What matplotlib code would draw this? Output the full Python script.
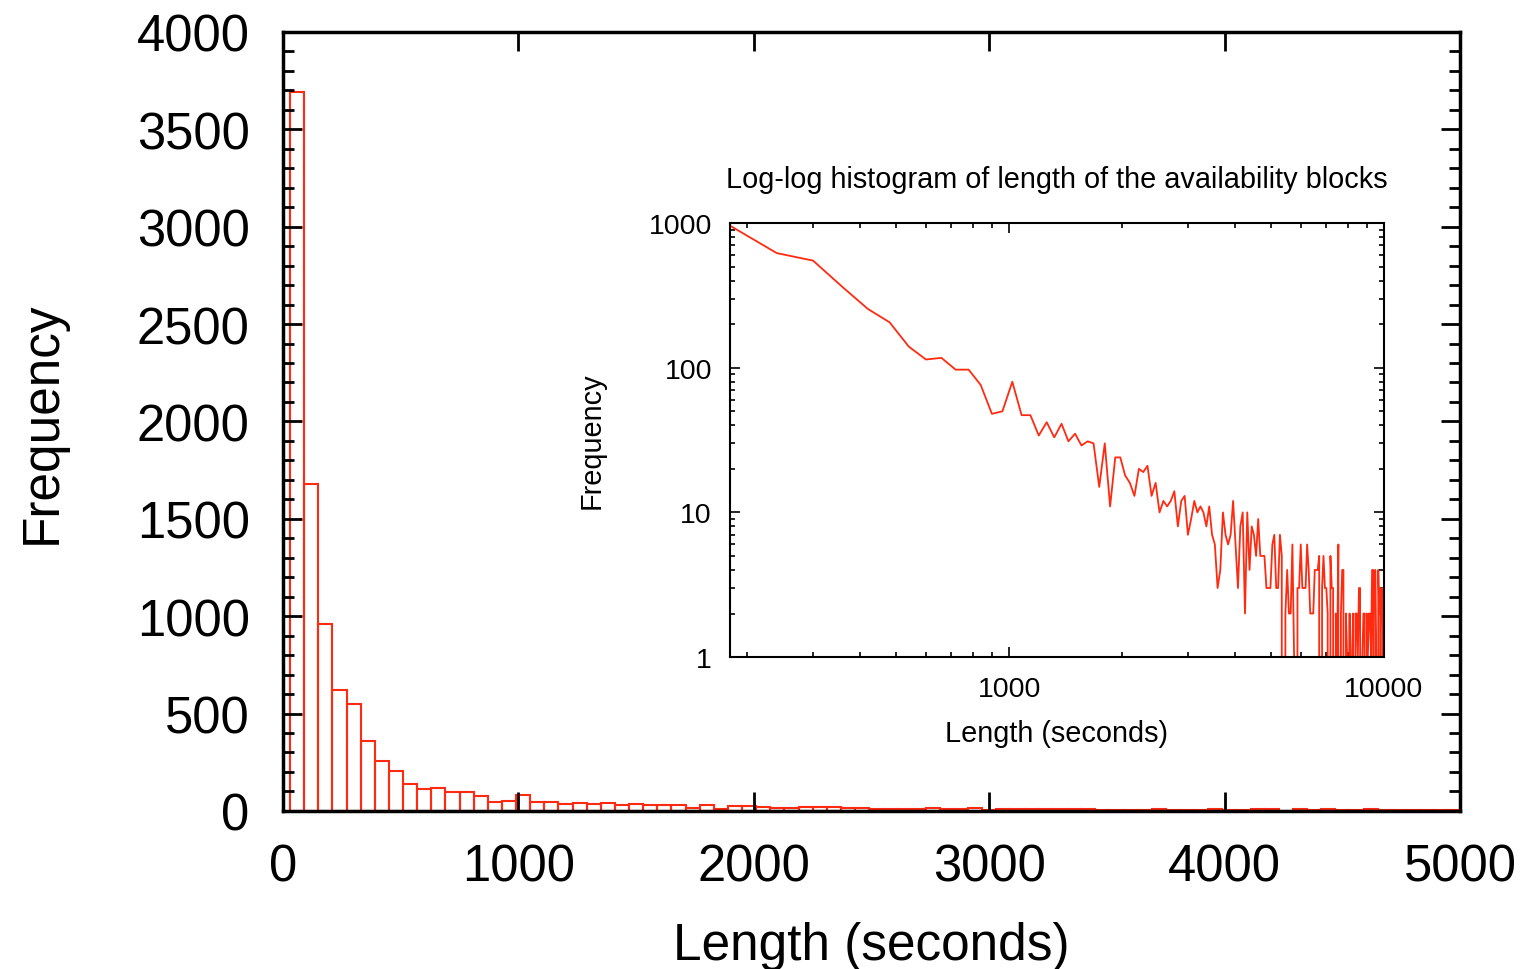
import numpy as np
import matplotlib.pyplot as plt
from matplotlib.ticker import MultipleLocator, LogLocator, NullFormatter

plt.rcParams['font.family'] = ['Liberation Sans', 'DejaVu Sans']

# lengths of the availability blocks, counted in 60 s bins (bin k sits at 60*k)
bin_width = 60
counts = [
    3690, 1680, 960, 620, 550, 360, 255, 206, 140, 114,
    117, 97, 97, 76, 48, 50, 80, 47, 47, 34,
    42, 33, 41, 31, 35, 29, 31, 30, 15, 30,
    11, 24, 24, 18, 16, 13, 20, 19, 21, 13,
    16, 10, 12, 11, 12, 14, 8, 12, 13, 7,
    9, 12, 10, 11, 10, 8, 11, 7, 6, 3,
    4, 10, 7, 6, 7, 12, 6, 3, 8, 10,
    2, 10, 4, 8, 7, 5, 9, 5, 5, 5,
    3, 3, 3, 6, 7, 3, 3, 7, 5, 0,
    2, 4, 2, 2, 6, 1, 0, 3, 3, 6,
    3, 3, 3, 6, 4, 2, 2, 2, 4, 4,
    4, 5, 0, 3, 5, 3, 3, 2, 0, 5,
    3, 3, 0, 2, 1, 6, 0, 2, 4, 4,
    0, 2, 1, 0, 2, 0, 1, 2, 0, 2,
    2, 1, 3, 3, 0, 1, 2, 2, 0, 2,
    1, 2, 2, 1, 4, 4, 0, 4, 1, 0,
    4, 2, 3, 0, 3, 1,
]

counts = np.array(counts)
lengths = bin_width * np.arange(1, len(counts) + 1)
red = '#ff2a10'

fig = plt.figure(figsize=(15.29, 9.70), dpi=100)

# main linear histogram
ax = fig.add_axes([0.1851, 0.163, 0.7698, 0.803])
shown = lengths <= 5000
ax.bar(lengths[shown], counts[shown], width=bin_width, fill=False,
       edgecolor=red, linewidth=1.5)
ax.set_xlim(0, 5000)
ax.set_ylim(0, 4000)
ax.xaxis.set_major_locator(MultipleLocator(1000))
ax.yaxis.set_major_locator(MultipleLocator(500))
ax.yaxis.set_minor_locator(MultipleLocator(100))
ax.tick_params(which='both', direction='in', top=True, right=True, width=2,
               labelsize=36.5)
ax.tick_params(which='major', length=14)
ax.tick_params(which='minor', length=8)
ax.tick_params(axis='x', pad=23)
ax.tick_params(axis='y', pad=24)
for s in ax.spines.values():
    s.set_linewidth(2.5)
ax.set_xlabel('Length (seconds)', fontsize=37, labelpad=21)
ax.set_ylabel('Frequency', fontsize=37, labelpad=50)

# log-log inset
ins = fig.add_axes([0.4774, 0.3216, 0.4277, 0.4474])
ins.plot(lengths, counts, color=red, linewidth=1.3)
ins.set_xscale('log')
ins.set_yscale('log')
ins.set_xlim(180, 10000)
ins.set_ylim(1, 1000)
ins.set_xticks([1000, 10000], ['1000', '10000'])
ins.set_yticks([1, 10, 100, 1000], ['1', '10', '100', '1000'])
ins.xaxis.set_minor_locator(LogLocator(base=10, subs=range(2, 10)))
ins.yaxis.set_minor_locator(LogLocator(base=10, subs=range(2, 10)))
ins.xaxis.set_minor_formatter(NullFormatter())
ins.yaxis.set_minor_formatter(NullFormatter())
ins.tick_params(which='both', direction='in', top=True, right=True, width=1.2,
                labelsize=20.5)
ins.tick_params(which='major', length=7)
ins.tick_params(which='minor', length=3.5)
ins.tick_params(axis='x', pad=14)
ins.tick_params(axis='y', pad=13)
for s in ins.spines.values():
    s.set_linewidth(1.5)
ins.set_xlabel('Length (seconds)', fontsize=20.8, labelpad=12)
ins.set_ylabel('Frequency', fontsize=20.8, labelpad=31)
ins.set_title('Log-log histogram of length of the availability blocks',
              fontsize=20.8, pad=26)

fig.savefig('out.png', dpi=100)
